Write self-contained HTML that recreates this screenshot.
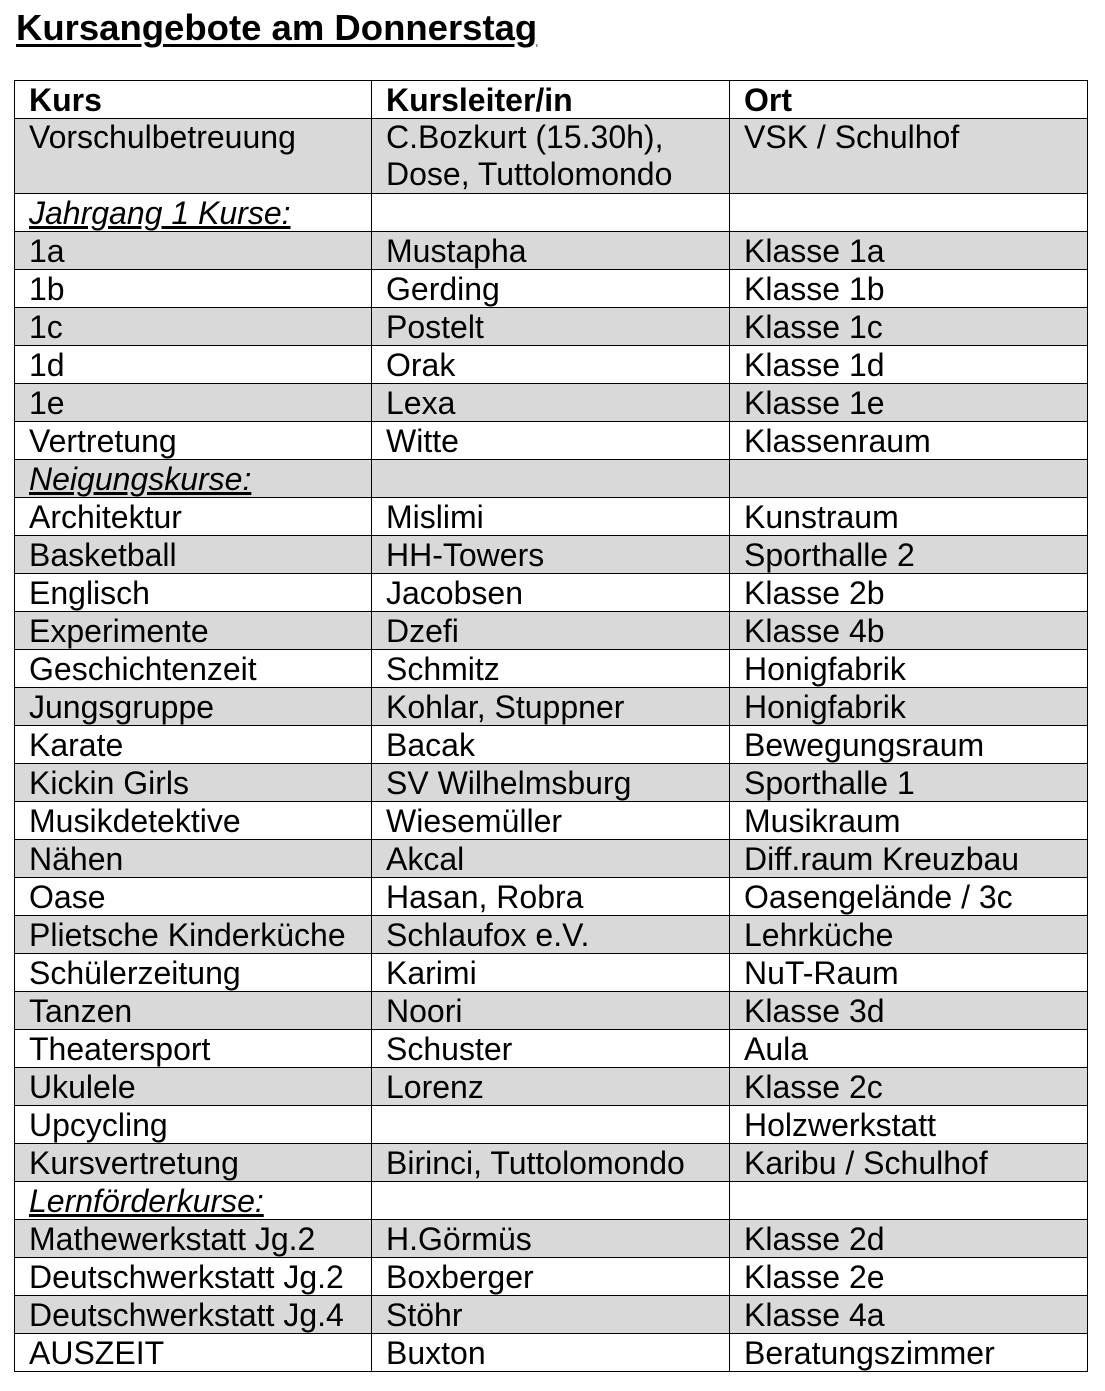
<!DOCTYPE html>
<html><head><meta charset="utf-8"><style>
body{margin:0;background:#fff;width:1105px;height:1391px;overflow:hidden;font-family:"Liberation Sans",Arial,sans-serif;}
h1{position:absolute;left:16px;top:8px;margin:0;font-size:36.5px;line-height:40px;font-weight:bold;text-decoration:underline;text-decoration-thickness:3px;text-underline-offset:4px;color:#000;}
table{position:absolute;left:14px;top:80px;border-collapse:collapse;table-layout:fixed;width:1073px;}
td{border:1.5px solid #000;padding:0 0 0 14px;height:37px;font-size:32px;line-height:36px;vertical-align:bottom;color:#000;white-space:nowrap;overflow:hidden;}
tr.g td{background:#d9d9d9;}
tr.h td{font-weight:bold;font-size:32px;}
td i{text-decoration:underline;}
</style></head><body>
<h1>Kursangebote am Donnerstag</h1>
<table>
<colgroup><col style="width:357px"><col style="width:358px"><col style="width:358px"></colgroup>
<tr class="h"><td>Kurs</td><td>Kursleiter/in</td><td>Ort</td></tr>
<tr class="g"><td style="height:74px;vertical-align:top;line-height:37px">Vorschulbetreuung</td><td style="vertical-align:top;line-height:37px">C.Bozkurt (15.30h),<br>Dose, Tuttolomondo</td><td style="vertical-align:top;line-height:37px">VSK / Schulhof</td></tr>
<tr><td><i>Jahrgang 1 Kurse:</i></td><td></td><td></td></tr>
<tr class="g"><td>1a</td><td>Mustapha</td><td>Klasse 1a</td></tr>
<tr><td>1b</td><td>Gerding</td><td>Klasse 1b</td></tr>
<tr class="g"><td>1c</td><td>Postelt</td><td>Klasse 1c</td></tr>
<tr><td>1d</td><td>Orak</td><td>Klasse 1d</td></tr>
<tr class="g"><td>1e</td><td>Lexa</td><td>Klasse 1e</td></tr>
<tr><td>Vertretung</td><td>Witte</td><td>Klassenraum</td></tr>
<tr class="g"><td><i>Neigungskurse:</i></td><td></td><td></td></tr>
<tr><td>Architektur</td><td>Mislimi</td><td>Kunstraum</td></tr>
<tr class="g"><td>Basketball</td><td>HH-Towers</td><td>Sporthalle 2</td></tr>
<tr><td>Englisch</td><td>Jacobsen</td><td>Klasse 2b</td></tr>
<tr class="g"><td>Experimente</td><td>Dzefi</td><td>Klasse 4b</td></tr>
<tr><td>Geschichtenzeit</td><td>Schmitz</td><td>Honigfabrik</td></tr>
<tr class="g"><td>Jungsgruppe</td><td>Kohlar, Stuppner</td><td>Honigfabrik</td></tr>
<tr><td>Karate</td><td>Bacak</td><td>Bewegungsraum</td></tr>
<tr class="g"><td>Kickin Girls</td><td>SV Wilhelmsburg</td><td>Sporthalle 1</td></tr>
<tr><td>Musikdetektive</td><td>Wiesemüller</td><td>Musikraum</td></tr>
<tr class="g"><td>Nähen</td><td>Akcal</td><td>Diff.raum Kreuzbau</td></tr>
<tr><td>Oase</td><td>Hasan, Robra</td><td>Oasengelände / 3c</td></tr>
<tr class="g"><td>Plietsche Kinderküche</td><td>Schlaufox e.V.</td><td>Lehrküche</td></tr>
<tr><td>Schülerzeitung</td><td>Karimi</td><td>NuT-Raum</td></tr>
<tr class="g"><td>Tanzen</td><td>Noori</td><td>Klasse 3d</td></tr>
<tr><td>Theatersport</td><td>Schuster</td><td>Aula</td></tr>
<tr class="g"><td>Ukulele</td><td>Lorenz</td><td>Klasse 2c</td></tr>
<tr><td>Upcycling</td><td></td><td>Holzwerkstatt</td></tr>
<tr class="g"><td>Kursvertretung</td><td>Birinci, Tuttolomondo</td><td>Karibu / Schulhof</td></tr>
<tr><td><i>Lernförderkurse:</i></td><td></td><td></td></tr>
<tr class="g"><td>Mathewerkstatt Jg.2</td><td>H.Görmüs</td><td>Klasse 2d</td></tr>
<tr><td>Deutschwerkstatt Jg.2</td><td>Boxberger</td><td>Klasse 2e</td></tr>
<tr class="g"><td>Deutschwerkstatt Jg.4</td><td>Stöhr</td><td>Klasse 4a</td></tr>
<tr><td>AUSZEIT</td><td>Buxton</td><td>Beratungszimmer</td></tr>
</table>
</body></html>
